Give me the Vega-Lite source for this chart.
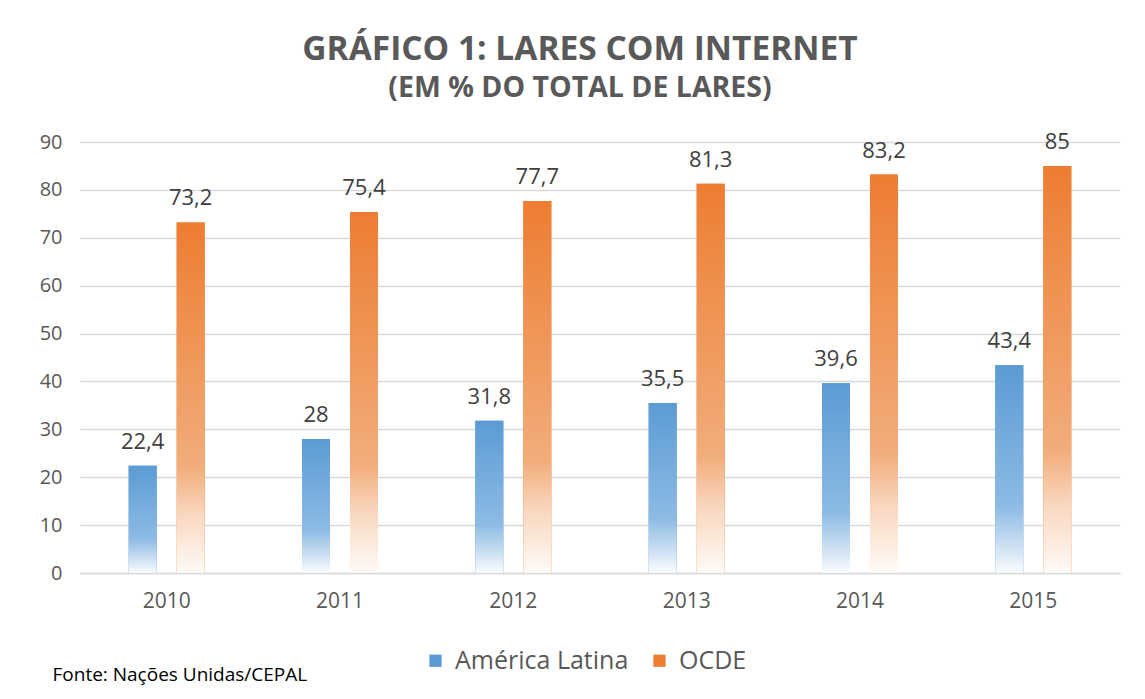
{
  "$schema": "https://vega.github.io/schema/vega-lite/v6.json",
  "width": 1040,
  "height": 431,
  "autosize": "none",
  "padding": {"left": 80, "top": 142, "right": 25, "bottom": 126},
  "background": "white",
  "title": {
    "text": "GRÁFICO 1: LARES COM INTERNET",
    "subtitle": "(EM % DO TOTAL DE LARES)",
    "anchor": "middle",
    "dx": -20,
    "offset": 27,
    "font": "Open Sans",
    "fontSize": 33.5,
    "fontWeight": "bold",
    "color": "#595959",
    "subtitleFont": "Open Sans",
    "subtitleFontSize": 28.5,
    "subtitleFontWeight": "bold",
    "subtitleColor": "#595959",
    "subtitlePadding": 7
  },
  "data": {
    "values": [
      {"year": "2010", "series": "América Latina", "value": 22.4, "label": "22,4"},
      {"year": "2010", "series": "OCDE", "value": 73.2, "label": "73,2"},
      {"year": "2011", "series": "América Latina", "value": 28, "label": "28"},
      {"year": "2011", "series": "OCDE", "value": 75.4, "label": "75,4"},
      {"year": "2012", "series": "América Latina", "value": 31.8, "label": "31,8"},
      {"year": "2012", "series": "OCDE", "value": 77.7, "label": "77,7"},
      {"year": "2013", "series": "América Latina", "value": 35.5, "label": "35,5"},
      {"year": "2013", "series": "OCDE", "value": 81.3, "label": "81,3"},
      {"year": "2014", "series": "América Latina", "value": 39.6, "label": "39,6"},
      {"year": "2014", "series": "OCDE", "value": 83.2, "label": "83,2"},
      {"year": "2015", "series": "América Latina", "value": 43.4, "label": "43,4"},
      {"year": "2015", "series": "OCDE", "value": 85, "label": "85"}
    ]
  },
  "encoding": {
    "x": {
      "field": "year",
      "type": "nominal",
      "scale": {"paddingInner": 0.5615, "paddingOuter": 0.2808},
      "axis": {
        "labelAngle": 0,
        "labelFont": "Open Sans",
        "labelFontSize": 21,
        "labelColor": "#595959",
        "labelPadding": 17,
        "ticks": false,
        "domain": true,
        "domainColor": "#D9D9D9",
        "domainWidth": 1.5,
        "title": "Fonte: Nações Unidas/CEPAL",
        "titleFont": "Open Sans",
        "titleFontSize": 19,
        "titleFontWeight": "normal",
        "titleColor": "#000000",
        "titleAnchor": "start",
        "titleAlign": "left",
        "titleBaseline": "alphabetic",
        "titleX": -28,
        "titleY": 107
      }
    },
    "xOffset": {
      "field": "series",
      "type": "nominal",
      "scale": {"domain": ["América Latina", "OCDE"], "paddingInner": 0.4167, "paddingOuter": 0}
    },
    "y": {
      "field": "value",
      "type": "quantitative",
      "scale": {"domain": [0, 90]},
      "axis": {
        "values": [0, 10, 20, 30, 40, 50, 60, 70, 80, 90],
        "title": null,
        "domain": false,
        "ticks": false,
        "labelFont": "Open Sans",
        "labelFontSize": 20,
        "labelColor": "#595959",
        "labelPadding": 18,
        "gridColor": "#D9D9D9",
        "gridWidth": 1.5
      }
    }
  },
  "layer": [
    {
      "mark": {"type": "bar"},
      "encoding": {
        "color": {
          "field": "series",
          "type": "nominal",
          "scale": {"domain": ["América Latina", "OCDE"], "range": ["#5B9BD5", "#ED7D31"]},
          "legend": {
            "title": null,
            "orient": "none",
            "direction": "horizontal",
            "legendX": 343,
            "legendY": 506,
            "symbolType": "square",
            "symbolSize": 150,
            "symbolStrokeWidth": 0,
            "labelFont": "Open Sans",
            "labelFontSize": 25,
            "labelLimit": 400,
            "labelColor": "#595959",
            "labelOffset": 7,
            "columnPadding": 18
          }
        }
      }
    },
    {
      "transform": [{"filter": "datum.series === 'América Latina'"}],
      "mark": {
        "type": "bar",
        "fill": {
          "gradient": "linear",
          "x1": 0, "y1": 0, "x2": 0, "y2": 1,
          "stops": [
            {"offset": 0, "color": "#5B9BD5"},
            {"offset": 0.68, "color": "#8DBBE4"},
            {"offset": 0.84, "color": "#C2DAF0"},
            {"offset": 1, "color": "#FAFCFE"}
          ]
        }
      }
    },
    {
      "transform": [{"filter": "datum.series === 'OCDE'"}],
      "mark": {
        "type": "bar",
        "fill": {
          "gradient": "linear",
          "x1": 0, "y1": 0, "x2": 0, "y2": 1,
          "stops": [
            {"offset": 0, "color": "#ED7D31"},
            {"offset": 0.7, "color": "#F2AD7B"},
            {"offset": 0.84, "color": "#F9D9C2"},
            {"offset": 1, "color": "#FFFAF6"}
          ]
        }
      }
    },
    {
      "mark": {
        "type": "text",
        "baseline": "alphabetic",
        "dy": -17,
        "font": "Open Sans",
        "fontSize": 22,
        "color": "#404040"
      },
      "encoding": {"text": {"field": "label"}}
    }
  ],
  "config": {
    "view": {"stroke": null}
  }
}
